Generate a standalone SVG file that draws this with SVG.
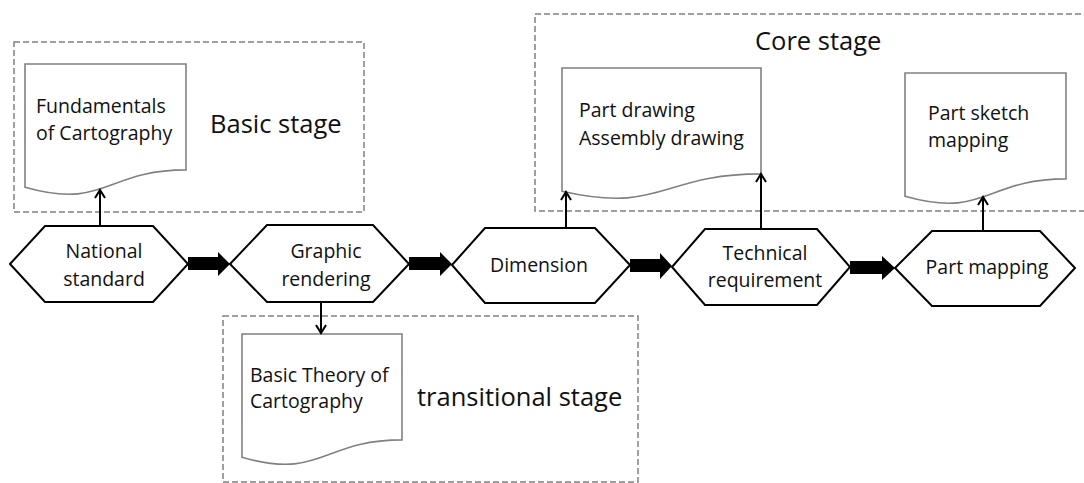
<svg xmlns="http://www.w3.org/2000/svg" width="1084" height="483" viewBox="0 0 1084 483">
<style>
.hex{fill:#fff;stroke:#000;stroke-width:2;stroke-linejoin:miter}
.doc{fill:#fff;stroke:#808080;stroke-width:1.6}
.dash{fill:none;stroke:#808080;stroke-width:1.5;stroke-dasharray:6 3}
.t{font-family:"Open Sans","Liberation Sans",sans-serif;font-size:19.5px;fill:#111}
.st{font-family:"Open Sans","Liberation Sans",sans-serif;font-size:25.5px;fill:#111}
.m{text-anchor:middle}
.ln{stroke:#000;stroke-width:2;fill:none;marker-end:url(#ah)}
.blk{fill:#000}
</style>
<defs>
<marker id="ah" viewBox="0 0 12 12" refX="10" refY="6" markerWidth="12" markerHeight="12" markerUnits="userSpaceOnUse" orient="auto">
<path d="M2,1 L10,6 L2,11" fill="none" stroke="#000" stroke-width="2"/>
</marker>
</defs>
<rect width="1084" height="483" fill="#fff"/>

<g id="basic-stage">
<rect class="dash" x="14" y="42" width="350" height="170"/>
<text class="st" x="210" y="133">Basic stage</text>
</g>
<g id="core-stage">
<path class="dash" d="M1090,14 H535 V211 H1090"/>
<text class="st" x="755" y="50">Core stage</text>
</g>
<g id="transitional-stage">
<rect class="dash" x="223" y="316" width="415" height="166"/>
<text class="st" x="417" y="406">transitional stage</text>
</g>

<g id="doc-fundamentals">
<path class="doc" d="M25,64 H186 V169.9 C105.5,169.9 105.5,210.1 25,187.3 Z"/>
<text class="t" x="36" y="113">Fundamentals</text>
<text class="t" x="36" y="140">of Cartography</text>
</g>
<g id="doc-part-drawing">
<path class="doc" d="M562,68 H761 V173.9 C661.5,173.9 661.5,214.1 562,191.3 Z"/>
<text class="t" x="579" y="117">Part drawing</text>
<text class="t" x="579" y="145">Assembly drawing</text>
</g>
<g id="doc-part-sketch">
<path class="doc" d="M905,73 H1066 V178.9 C985.5,178.9 985.5,219.1 905,196.3 Z"/>
<text class="t" x="928" y="120">Part sketch</text>
<text class="t" x="928" y="147">mapping</text>
</g>
<g id="doc-basic-theory">
<path class="doc" d="M242,334 H402 V439.9 C322,439.9 322,480.1 242,457.3 Z"/>
<text class="t" x="250" y="382">Basic Theory of</text>
<text class="t" x="250" y="408">Cartography</text>
</g>

<g id="node-national-standard">
<polygon class="hex" points="10,264 45,226 153,226 188,264 153,302 45,302"/>
<text class="t m" x="104" y="258">National</text>
<text class="t m" x="104" y="286">standard</text>
</g>
<g id="node-graphic-rendering">
<polygon class="hex" points="230,264 267,225 373,225 409,264 373,302 267,302"/>
<text class="t m" x="326" y="258">Graphic</text>
<text class="t m" x="326" y="286">rendering</text>
</g>
<g id="node-dimension">
<polygon class="hex" points="452,265 485,228 595,228 630,265 595,303 485,303"/>
<text class="t m" x="539" y="272">Dimension</text>
</g>
<g id="node-technical-requirement">
<polygon class="hex" points="672,267 705,229 817,229 850,267 817,305 705,305"/>
<text class="t m" x="765" y="260">Technical</text>
<text class="t m" x="765" y="287">requirement</text>
</g>
<g id="node-part-mapping">
<polygon class="hex" points="895,268 932,231 1040,231 1075,268 1040,306 932,306"/>
<text class="t m" x="987" y="274">Part mapping</text>
</g>

<g id="connectors">
<path class="blk" d="M188,257 H218 V252 L230,264 L218,276 V270 H188 Z"/>
<path class="blk" d="M409,257 H440 V252 L452,264 L440,276 V270 H409 Z"/>
<path class="blk" d="M630,259 H660 V253 L672,266 L660,279 V272 H630 Z"/>
<path class="blk" d="M850,261 H882 V256 L895,268 L882,280 V274 H850 Z"/>
<line class="ln" x1="100" y1="226" x2="100" y2="190"/>
<line class="ln" x1="321" y1="302" x2="321" y2="333"/>
<line class="ln" x1="566" y1="228" x2="566" y2="192"/>
<line class="ln" x1="761" y1="229" x2="761" y2="174"/>
<line class="ln" x1="983" y1="231" x2="983" y2="197"/>
</g>
</svg>
